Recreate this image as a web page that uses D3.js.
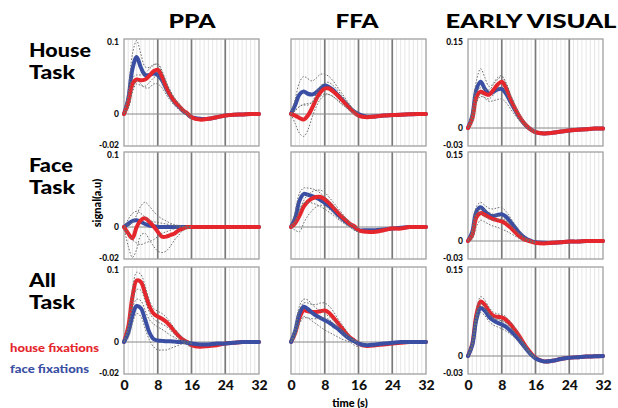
<!DOCTYPE html>
<html><head><meta charset="utf-8">
<script src="https://cdn.jsdelivr.net/npm/d3@7"></script>
<style>
body{margin:0;background:#fff}
svg{display:block}
text{font-family:Lato,"Open Sans",sans-serif;font-weight:900}
</style>
</head><body>
<svg id="c" width="618" height="408"></svg>
<script>
// ---------- categories & ticks ----------
const regions = ["PPA", "FFA", "EARLY VISUAL"];
const tasks = [["House", "Task"], ["Face", "Task"], ["All", "Task"]];
const seriesNames = ["house fixations", "face fixations"];
const xTicks = [0, 8, 16, 24, 32];
const yTicksSmall = [-0.02, 0, 0.1];
const yLabelsSmall = ["-0.02", "0", "0.1"];
const yTicksLarge = [-0.03, 0, 0.15];
const yLabelsLarge = ["-0.03", "0", "0.15"];
const xTitle = "time (s)";
const yTitle = "signal(a.u)";

// sample times (s) for mean curves and for the dotted error bounds
const times = [0,1,2,3,4,5,6,7,8,9,10,11,12,13,14,15,16,18,20,22,24,26,28,30,32];
const bandTimes = [0,1,2,3,4,5,6,7,8,9,10,11,12,13,14,15,16];

// ---------- House task ----------
const ppaHouseRed  = [0,0.015,0.04,0.046,0.045,0.046,0.051,0.057,0.059,0.05,0.036,0.025,0.017,0.011,0.005,0.001,-0.002,-0.0035,-0.003,-0.002,-0.001,-0.0005,-0.0003,0,0];
const ppaHouseBlue = [0,0.02,0.06,0.076,0.062,0.052,0.052,0.054,0.052,0.045,0.034,0.024,0.016,0.01,0.004,0,-0.002,-0.003,-0.003,-0.002,-0.001,-0.0005,-0.0003,0,0];
const ppaHouseRedHi  = [0,0.02,0.048,0.052,0.052,0.055,0.06,0.065,0.067,0.058,0.042,0.03,0.021,0.014,0.007,0.002,-0.001];
const ppaHouseRedLo  = [0,0.008,0.03,0.04,0.038,0.037,0.042,0.048,0.051,0.043,0.03,0.02,0.013,0.008,0.003,-0.001,-0.003];
const ppaHouseBlueHi = [0,0.03,0.08,0.098,0.08,0.063,0.062,0.066,0.066,0.056,0.043,0.031,0.021,0.013,0.006,0.001,-0.002];
const ppaHouseBlueLo = [0,0.008,0.03,0.045,0.04,0.035,0.035,0.04,0.04,0.035,0.026,0.018,0.011,0.006,0.002,-0.001,-0.003];

const ffaHouseRed  = [0,-0.001,-0.0025,-0.0035,-0.001,0.008,0.02,0.029,0.034,0.034,0.03,0.025,0.019,0.013,0.007,0.002,-0.001,-0.002,-0.0015,-0.001,-0.0007,-0.0004,-0.0002,0,0];
const ffaHouseBlue = [0,0.012,0.026,0.03,0.027,0.026,0.029,0.034,0.038,0.036,0.032,0.026,0.02,0.014,0.008,0.003,0,-0.0017,-0.0015,-0.001,-0.0007,-0.0004,-0.0002,0,0];
const ffaHouseRedHi  = [0,0.004,0.01,0.012,0.012,0.016,0.027,0.037,0.042,0.042,0.038,0.032,0.025,0.018,0.011,0.005,0.001];
const ffaHouseRedLo  = [0,-0.006,-0.012,-0.014,-0.01,-0.002,0.01,0.02,0.025,0.026,0.023,0.019,0.014,0.009,0.004,0,-0.002];
const ffaHouseBlueHi = [0,0.02,0.042,0.05,0.047,0.044,0.048,0.053,0.053,0.05,0.044,0.036,0.028,0.02,0.012,0.005,0.001];
const ffaHouseBlueLo = [0,0.005,0.01,0.013,0.014,0.015,0.02,0.024,0.027,0.026,0.023,0.018,0.013,0.009,0.005,0.001,-0.002];

const evHouseRed  = [0,0.015,0.052,0.061,0.058,0.056,0.064,0.073,0.078,0.068,0.05,0.035,0.022,0.011,0.003,-0.003,-0.007,-0.009,-0.008,-0.006,-0.004,-0.003,-0.002,-0.001,-0.001];
const evHouseBlue = [0,0.02,0.065,0.078,0.066,0.058,0.061,0.065,0.066,0.058,0.045,0.032,0.02,0.01,0.002,-0.003,-0.007,-0.009,-0.008,-0.006,-0.004,-0.003,-0.002,-0.001,-0.001];
const evHouseRedHi  = [0,0.02,0.06,0.068,0.065,0.064,0.073,0.082,0.086,0.076,0.057,0.04,0.026,0.014,0.005,-0.001,-0.005];
const evHouseRedLo  = [0,0.01,0.043,0.053,0.051,0.049,0.056,0.064,0.069,0.06,0.043,0.03,0.018,0.008,0.001,-0.005,-0.009];
const evHouseBlueHi = [0,0.03,0.08,0.1,0.085,0.07,0.075,0.085,0.088,0.076,0.058,0.041,0.026,0.014,0.005,-0.001,-0.005];
const evHouseBlueLo = [0,0.01,0.045,0.058,0.05,0.045,0.046,0.048,0.049,0.043,0.033,0.023,0.014,0.006,0,-0.004,-0.008];

// ---------- Face task ----------
const ppaFaceRed  = [0,-0.004,-0.007,0,0.009,0.0115,0.007,0.001,-0.003,-0.006,-0.006,-0.005,-0.004,-0.002,-0.001,0,0,0,0,0,0,0,0,0,0];
const ppaFaceBlue = [0,0.004,0.008,0.009,0.007,0.004,0.002,0.001,0,0,0,0,0,0,0,0,0,0,0,0,0,0,0,0,0];
const ppaFaceRedHi  = [0,0.003,0.006,0.016,0.028,0.033,0.028,0.021,0.015,0.011,0.008,0.005,0.003,0.002,0.001,0,0];
const ppaFaceRedLo  = [0,-0.012,-0.019,-0.014,-0.005,-0.004,-0.008,-0.012,-0.015,-0.016,-0.015,-0.012,-0.008,-0.005,-0.002,-0.001,0];
const ppaFaceBlueHi = [0,0.01,0.018,0.021,0.018,0.013,0.009,0.007,0.006,0.005,0.004,0.003,0.002,0.001,0.0005,0,0];
const ppaFaceBlueLo = [0,-0.004,-0.008,-0.01,-0.011,-0.01,-0.009,-0.008,-0.006,-0.004,-0.003,-0.002,-0.001,0,0,0,0];

const ffaFaceRed  = [0,0.005,0.015,0.027,0.034,0.038,0.04,0.04,0.037,0.032,0.026,0.02,0.014,0.009,0.004,0.001,-0.002,-0.003,-0.003,-0.002,-0.001,-0.001,0,0,0];
const ffaFaceBlue = [0,0.012,0.035,0.044,0.043,0.041,0.039,0.036,0.032,0.028,0.023,0.017,0.012,0.007,0.003,0,-0.002,-0.002,-0.002,-0.0015,-0.001,-0.0005,0,0,0];
const ffaFaceRedHi  = [0,0.008,0.022,0.035,0.043,0.047,0.049,0.049,0.046,0.04,0.033,0.026,0.019,0.012,0.006,0.002,-0.001];
const ffaFaceRedLo  = [0,-0.002,-0.003,0.005,0.015,0.022,0.027,0.029,0.028,0.024,0.019,0.013,0.008,0.004,0,-0.002,-0.003];
const ffaFaceBlueHi = [0,0.02,0.045,0.052,0.052,0.051,0.049,0.045,0.04,0.035,0.029,0.022,0.016,0.01,0.005,0.001,-0.001];
const ffaFaceBlueLo = [0,0.005,0.022,0.032,0.033,0.032,0.03,0.027,0.024,0.02,0.016,0.011,0.007,0.003,0,-0.002,-0.003];

const evFaceRed  = [0,0.01,0.04,0.047,0.044,0.04,0.037,0.035,0.033,0.029,0.023,0.016,0.009,0.004,0.001,-0.001,-0.003,-0.004,-0.003,-0.002,-0.001,-0.001,0,0,0];
const evFaceBlue = [0,0.015,0.05,0.057,0.05,0.044,0.042,0.044,0.045,0.041,0.033,0.024,0.015,0.008,0.003,0,-0.002,-0.003,-0.003,-0.002,-0.001,-0.001,0,0,0];
const evFaceRedHi  = [0,0.015,0.047,0.054,0.052,0.048,0.045,0.043,0.04,0.035,0.028,0.02,0.012,0.006,0.002,0,-0.002];
const evFaceRedLo  = [0,0.003,0.025,0.035,0.032,0.028,0.025,0.023,0.02,0.017,0.013,0.009,0.005,0.002,0,-0.002,-0.004];
const evFaceBlueHi = [0,0.02,0.058,0.065,0.06,0.055,0.054,0.056,0.056,0.05,0.04,0.029,0.019,0.01,0.004,0,-0.002];
const evFaceBlueLo = [0,0.008,0.04,0.048,0.042,0.037,0.035,0.036,0.037,0.033,0.026,0.019,0.012,0.006,0.002,-0.001,-0.003];

// ---------- All tasks ----------
const ppaAllRed  = [0,0.02,0.06,0.082,0.08,0.065,0.048,0.038,0.034,0.031,0.027,0.021,0.014,0.008,0.003,0,-0.002,-0.003,-0.0025,-0.002,-0.001,-0.0005,0,0,0];
const ppaAllBlue = [0,0.012,0.035,0.048,0.045,0.03,0.013,0.004,0.002,0.0015,0.001,0.001,0.0005,0,0,-0.0005,-0.001,-0.0015,-0.0015,-0.001,-0.001,-0.0005,0,0,0];
const ppaAllRedHi  = [0,0.025,0.07,0.093,0.09,0.075,0.056,0.045,0.041,0.038,0.033,0.026,0.018,0.011,0.005,0.001,-0.001];
const ppaAllRedLo  = [0,0.015,0.05,0.07,0.069,0.055,0.04,0.031,0.027,0.024,0.021,0.016,0.01,0.005,0.001,-0.002,-0.003];
const ppaAllBlueHi = [0,0.018,0.045,0.057,0.055,0.042,0.03,0.024,0.02,0.017,0.013,0.009,0.006,0.003,0.001,0,0];
const ppaAllBlueLo = [0,0.006,0.025,0.038,0.034,0.018,0.003,-0.003,-0.005,-0.005,-0.005,-0.004,-0.003,-0.002,-0.001,-0.001,-0.001];

const ffaAllRed  = [0,0.012,0.032,0.042,0.041,0.04,0.04,0.041,0.042,0.039,0.033,0.026,0.019,0.012,0.006,0.002,-0.001,-0.0025,-0.002,-0.0015,-0.001,-0.0005,0,0,0];
const ffaAllBlue = [0,0.015,0.038,0.047,0.044,0.039,0.035,0.032,0.029,0.026,0.022,0.018,0.013,0.008,0.004,0.001,-0.001,-0.002,-0.0015,-0.001,-0.0005,0,0,0,0];
const ffaAllRedHi  = [0,0.016,0.042,0.052,0.052,0.05,0.05,0.052,0.052,0.048,0.041,0.032,0.024,0.016,0.008,0.003,0];
const ffaAllRedLo  = [0,0.008,0.024,0.032,0.032,0.031,0.031,0.032,0.032,0.03,0.025,0.02,0.014,0.008,0.004,0.001,-0.002];
const ffaAllBlueHi = [0,0.02,0.048,0.057,0.056,0.05,0.045,0.042,0.038,0.034,0.029,0.024,0.018,0.012,0.006,0.002,0];
const ffaAllBlueLo = [0,0.008,0.026,0.034,0.032,0.028,0.024,0.02,0.016,0.013,0.01,0.007,0.004,0.002,0,-0.002,-0.003];

const evAllRed  = [0,0.02,0.07,0.092,0.086,0.075,0.068,0.066,0.065,0.061,0.054,0.045,0.035,0.024,0.013,0.004,-0.003,-0.009,-0.008,-0.005,-0.003,-0.002,-0.001,-0.0005,0];
const evAllBlue = [0,0.018,0.062,0.081,0.076,0.066,0.06,0.056,0.053,0.049,0.043,0.036,0.028,0.019,0.01,0.002,-0.004,-0.009,-0.008,-0.005,-0.003,-0.002,-0.001,-0.0005,0];
const evAllRedHi  = [0,0.024,0.077,0.1,0.094,0.082,0.074,0.071,0.07,0.066,0.058,0.049,0.038,0.026,0.015,0.005,-0.002];
const evAllRedLo  = [0,0.016,0.063,0.085,0.079,0.068,0.062,0.061,0.06,0.056,0.05,0.041,0.032,0.022,0.011,0.003,-0.004];
const evAllBlueHi = [0,0.022,0.068,0.088,0.083,0.072,0.066,0.062,0.059,0.055,0.048,0.04,0.031,0.021,0.012,0.003,-0.003];
const evAllBlueLo = [0,0.014,0.055,0.073,0.068,0.058,0.052,0.049,0.046,0.042,0.037,0.031,0.024,0.016,0.008,0.001,-0.005];

// ---------- table built from the arrays ----------
const grid = [
  [[ppaHouseRed,ppaHouseBlue,ppaHouseRedHi,ppaHouseRedLo,ppaHouseBlueHi,ppaHouseBlueLo],
   [ffaHouseRed,ffaHouseBlue,ffaHouseRedHi,ffaHouseRedLo,ffaHouseBlueHi,ffaHouseBlueLo],
   [evHouseRed,evHouseBlue,evHouseRedHi,evHouseRedLo,evHouseBlueHi,evHouseBlueLo]],
  [[ppaFaceRed,ppaFaceBlue,ppaFaceRedHi,ppaFaceRedLo,ppaFaceBlueHi,ppaFaceBlueLo],
   [ffaFaceRed,ffaFaceBlue,ffaFaceRedHi,ffaFaceRedLo,ffaFaceBlueHi,ffaFaceBlueLo],
   [evFaceRed,evFaceBlue,evFaceRedHi,evFaceRedLo,evFaceBlueHi,evFaceBlueLo]],
  [[ppaAllRed,ppaAllBlue,ppaAllRedHi,ppaAllRedLo,ppaAllBlueHi,ppaAllBlueLo],
   [ffaAllRed,ffaAllBlue,ffaAllRedHi,ffaAllRedLo,ffaAllBlueHi,ffaAllBlueLo],
   [evAllRed,evAllBlue,evAllRedHi,evAllRedLo,evAllBlueHi,evAllBlueLo]]
];

// ---------- layout & style ----------
const RED = "#e5262c", BLUE = "#3a4fa3";
const colLeft = [124, 291, 468], colW = 135;
const rowTop = [39, 152, 267], rowH = 107;
const zeroOff = [75, 75, 89];
const yDomains = [[-0.02,0,0.1],[-0.02,0,0.1],[-0.03,0,0.15]];
const labelShift = [-1, 0, 3]; // small vertical nudges for bottom / zero / top labels

const svg = d3.select("#c");

grid.forEach((row, r) => {
  row.forEach((cell, c) => {
    const L = colLeft[c], T = rowTop[r];
    const x = d3.scaleLinear().domain([0, 32]).range([L, L + colW]);
    const y = d3.scaleLinear().domain(yDomains[c]).range([T + rowH, T + zeroOff[c], T]);
    const g = svg.append("g");

    g.selectAll(".minor").data(d3.range(1, 32).filter(t => t % 8 !== 0)).join("line")
      .attr("x1", d => x(d)).attr("x2", d => x(d)).attr("y1", T).attr("y2", T + rowH)
      .attr("stroke", "#e0e0e0").attr("stroke-width", 0.8);
    g.selectAll(".major").data([8, 16, 24]).join("line")
      .attr("x1", d => x(d)).attr("x2", d => x(d)).attr("y1", T).attr("y2", T + rowH)
      .attr("stroke", "#7a7a7a").attr("stroke-width", 1.7);
    g.append("line").attr("x1", x(0)).attr("x2", x(32)).attr("y1", y(0)).attr("y2", y(0))
      .attr("stroke", "#888").attr("stroke-width", 1);
    g.append("rect").attr("x", L).attr("y", T).attr("width", colW).attr("height", rowH)
      .attr("fill", "none").attr("stroke", "#a0a0a0").attr("stroke-width", 1.3);

    const line = d3.line().x((d, i) => x(times[i])).y(d => y(d)).curve(d3.curveCatmullRom.alpha(0.5));
    const band = d3.line().x((d, i) => x(bandTimes[i])).y(d => y(d)).curve(d3.curveCatmullRom.alpha(0.5));

    const means = [{v: cell[0], col: RED}, {v: cell[1], col: BLUE}];
    const order = r === 2 ? [means[0], means[1]] : [means[1], means[0]];
    order.forEach(m => {
      g.append("path").attr("d", line(m.v)).attr("fill", "none")
        .attr("stroke", m.col).attr("stroke-width", 4).attr("stroke-linejoin", "round").attr("stroke-linecap", "round");
    });
    [cell[2], cell[3], cell[4], cell[5]].forEach(b => {
      g.append("path").attr("d", band(b)).attr("fill", "none")
        .attr("stroke", "#707070").attr("stroke-width", 1).attr("stroke-dasharray", "1.6,1.6");
    });

    if (c === 0 || c === 2) {
      const vals = c === 0 ? yTicksSmall : yTicksLarge;
      const labs = c === 0 ? yLabelsSmall : yLabelsLarge;
      const ax = d3.axisLeft(y).tickValues(vals).tickSize(0).tickPadding(5)
        .tickFormat((d, i) => labs[i]);
      const ag = svg.append("g").attr("transform", `translate(${L},0)`).call(ax);
      ag.select(".domain").remove();
      ag.selectAll(".tick").attr("transform", (d, i) => `translate(0,${y(d) + labelShift[i]})`);
      ag.selectAll("text").attr("font-size", 8.5).attr("font-family", "Lato").attr("font-weight", 900).attr("fill", "#111");
    }
    if (r === 2) {
      const ax = d3.axisBottom(x).tickValues(xTicks).tickSize(0).tickPadding(6);
      const ag = svg.append("g").attr("transform", `translate(0,${T + rowH})`).call(ax);
      ag.select(".domain").remove();
      ag.selectAll("text").attr("font-size", 14).attr("font-family", "Lato").attr("font-weight", 900).attr("fill", "#111");
    }
  });
});

// column titles
const titleX = [192, 357, 531], titleW = [47, 43, 171];
svg.selectAll(".title").data(regions).join("text")
  .attr("x", (d, i) => titleX[i]).attr("y", 28).attr("text-anchor", "middle")
  .attr("font-size", 19).attr("fill", "#000")
  .attr("textLength", (d, i) => titleW[i]).attr("lengthAdjust", "spacingAndGlyphs")
  .text(d => d);

// row titles
const rowBase = [57, 172, 287];
const rowW = [[62, 46], [44, 46], [27, 46]];
tasks.forEach((t, r) => {
  t.forEach((w, k) => {
    svg.append("text").attr("x", 29).attr("y", rowBase[r] + k * 21.5)
      .attr("font-size", 18).attr("fill", "#000")
      .attr("textLength", rowW[r][k]).attr("lengthAdjust", "spacingAndGlyphs").text(w);
  });
});

// legend
const legY = [352, 373], legW = [89, 79];
svg.selectAll(".leg").data(seriesNames).join("text")
  .attr("x", 10).attr("y", (d, i) => legY[i]).attr("font-size", 12)
  .attr("textLength", (d, i) => legW[i]).attr("lengthAdjust", "spacingAndGlyphs")
  .attr("fill", (d, i) => i === 0 ? RED : BLUE).text(d => d);

// axis titles
svg.append("text").attr("x", 350).attr("y", 407).attr("text-anchor", "middle")
  .attr("font-size", 11).attr("fill", "#000").text(xTitle);
svg.append("text").attr("transform", "translate(101,203) rotate(-90)").attr("text-anchor", "middle")
  .attr("font-size", 11).attr("fill", "#000").text(yTitle);
</script>
</body></html>
